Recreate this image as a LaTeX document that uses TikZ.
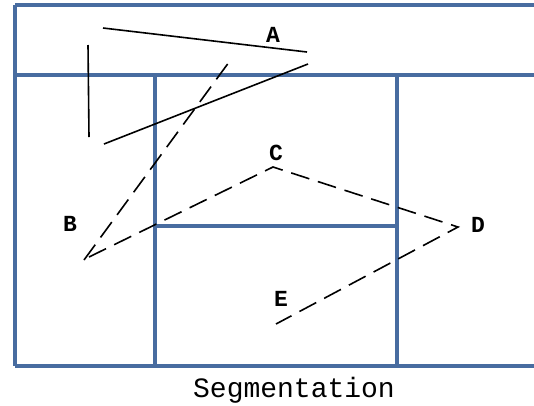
\documentclass[tikz,border=0pt]{standalone}
\usepackage{fontspec}
\setmonofont{Liberation Mono}
\definecolor{gridblue}{RGB}{72,108,160}
\begin{document}
\begin{tikzpicture}[
    x=1pt, y=-1pt,
    cell/.style={draw=gridblue, line width=3.4pt},
    stroke/.style={draw=black, line width=1.6pt},
    dashstroke/.style={stroke, dash pattern=on 19pt off 9pt},
    letter/.style={font=\fontsize{23}{23}\ttfamily\bfseries, inner sep=0pt},
    caption/.style={font=\fontsize{28}{28}\ttfamily, inner sep=0pt},
  ]
    % page frame, 534 x 405 px
    \useasboundingbox (0,0) rectangle (534,405);
    \clip (0,0) rectangle (534,405);

    % blue segmentation grid
    \draw[cell] (15,5) -- (545,5);
    \draw[cell] (15,75) -- (545,75);
    \draw[cell] (15,366) -- (545,366);
    \draw[cell] (15,5) -- (15,366);
    \draw[cell] (155,75) -- (155,366);
    \draw[cell] (397,75) -- (397,366);
    \draw[cell] (155,226) -- (397,226);

    % end points of the strokes
    \coordinate (a1) at (103,28);
    \coordinate (a2) at (307,52);
    \coordinate (v1) at (88,45);
    \coordinate (v2) at (89,137);
    \coordinate (s1) at (104,144);
    \coordinate (s2) at (308,64);
    \coordinate (b1) at (84,260);
    \coordinate (b2) at (232,58);
    \coordinate (b3) at (89,257);
    \coordinate (c) at (273,167);
    \coordinate (d) at (458,227);
    \coordinate (e) at (276,324);

    % solid strokes
    \draw[stroke] (a1) -- (a2);
    \draw[stroke] (v1) -- (v2);
    \draw[stroke] (s1) -- (s2);

    % dashed strokes
    \draw[dashstroke] (b1) -- (b2);
    \draw[dashstroke] (b3) -- (c) -- (d) -- (e);

    % labels
    \node[letter] (lA) at (273,35) {A};
    \node[letter] (lB) at (70,224) {B};
    \node[letter] (lC) at (276,153) {C};
    \node[letter] (lD) at (478,225) {D};
    \node[letter] (lE) at (281,299) {E};

    \node[caption] (title) at (294,390) {Segmentation};

  \end{tikzpicture}
\end{document}
